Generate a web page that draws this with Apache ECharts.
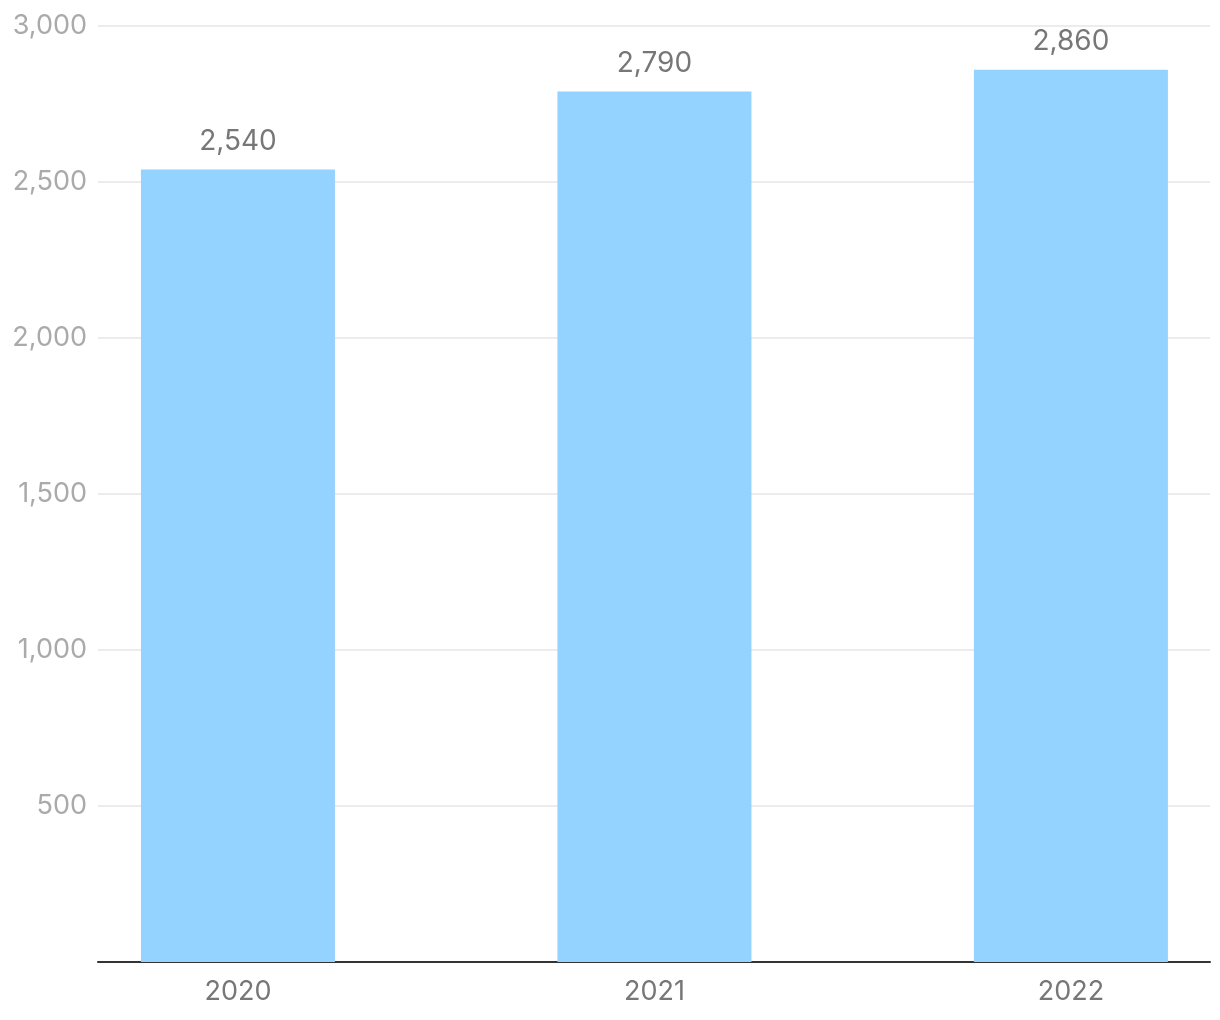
<!DOCTYPE html>
<html>
<head>
<meta charset="utf-8">
<script src="https://cdn.jsdelivr.net/npm/echarts@6/dist/echarts.min.js"></script>
<style>
html,body{margin:0;padding:0;background:#fff;}
#chart{width:1220px;height:1020px;}
</style>
</head>
<body>
<div id="chart"></div>
<script>
var categories = ['2020', '2021', '2022'];
var values = [2540, 2790, 2860];
var yTicks = [0, 500, 1000, 1500, 2000, 2500, 3000];

var chart = echarts.init(document.getElementById('chart'));
var fmt = function (v) { return v.toLocaleString('en-US'); };
var data = values.map(function (v, i) { return [i, v]; });

chart.setOption({
  animation: false,
  textStyle: { fontFamily: 'Inter' },
  grid: { left: 98, right: 10, top: 26, bottom: 58 },
  xAxis: {
    type: 'value',
    min: -0.336,
    max: 2.334,
    splitLine: { show: false },
    axisTick: { show: false },
    axisLine: { show: true, onZero: false, lineStyle: { color: '#333', width: 2 } },
    axisLabel: {
      customValues: categories.map(function (c, i) { return i; }),
      formatter: function (v) { return categories[Math.round(v)]; },
      color: '#777',
      fontSize: 27,
      margin: 16,
      fontFamily: 'Inter'
    }
  },
  yAxis: {
    type: 'value',
    min: yTicks[0],
    max: yTicks[yTicks.length - 1],
    interval: 500,
    axisLine: { show: false },
    axisTick: { show: false },
    splitLine: { lineStyle: { color: '#e6e6e6', width: 1.5 } },
    axisLabel: {
      formatter: function (v) { return v === 0 ? '' : fmt(v); },
      color: '#aaa',
      fontSize: 27,
      margin: 11,
      fontFamily: 'Inter'
    }
  },
  series: [{
    type: 'bar',
    data: data,
    barWidth: 194,
    itemStyle: { color: '#94d2ff' },
    label: {
      show: true,
      position: 'top',
      distance: 14,
      formatter: function (p) { return fmt(p.value[1]); },
      color: '#777',
      fontSize: 28,
      fontFamily: 'Inter'
    }
  }]
});
</script>
</body>
</html>
